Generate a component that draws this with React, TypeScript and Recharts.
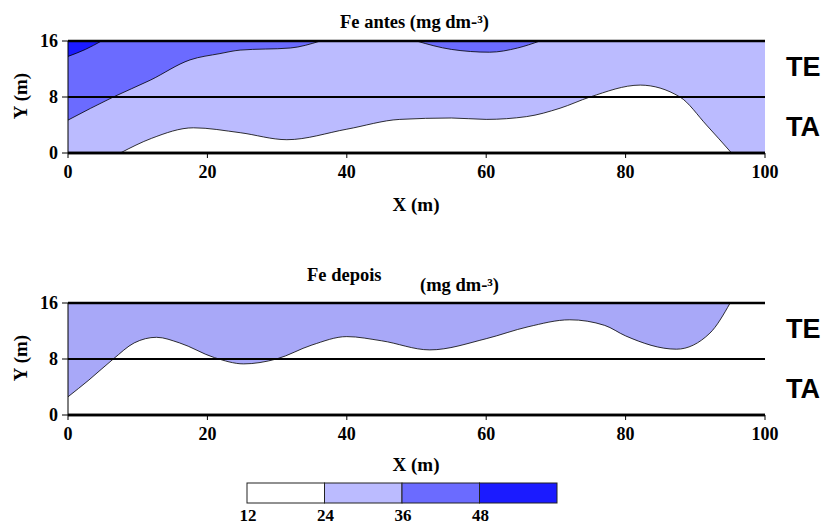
import { Area, ComposedChart, Line, ReferenceArea, ReferenceLine, XAxis, YAxis } from 'recharts'

if (typeof document !== 'undefined') document.body.style.margin = '0'

// contour lines (x in m, y in m)
const antes24 = [
  { x: 7.5, y: 0 }, { x: 12, y: 2.1 }, { x: 18, y: 3.6 }, { x: 24.7, y: 2.9 }, { x: 31.4, y: 1.9 },
  { x: 40, y: 3.4 }, { x: 47.6, y: 4.8 }, { x: 55, y: 5.0 }, { x: 60, y: 4.8 }, { x: 65.8, y: 5.2 },
  { x: 70.6, y: 6.4 }, { x: 74.9, y: 8.0 }, { x: 82.1, y: 9.7 }, { x: 87.8, y: 8.0 }, { x: 91.6, y: 4.0 },
  { x: 95.2, y: 0 },
]
const antes36Left = [
  { x: 0, y: 4.7 }, { x: 6.5, y: 8 }, { x: 11.8, y: 10.4 }, { x: 17.5, y: 13.3 }, { x: 21.8, y: 14.2 },
  { x: 24.7, y: 14.7 }, { x: 31.9, y: 15.0 }, { x: 36.2, y: 16 },
]
const antes36Mid = [
  { x: 50, y: 16 }, { x: 55, y: 14.8 }, { x: 60.5, y: 14.4 }, { x: 64.5, y: 15.0 }, { x: 67.7, y: 16 },
]
const antes48 = [{ x: 0, y: 13.8 }, { x: 2.5, y: 14.8 }, { x: 4.8, y: 16 }]

const depois24 = [
  { x: 0, y: 2.6 }, { x: 3, y: 5 }, { x: 6.5, y: 8 }, { x: 9.5, y: 10.3 }, { x: 12.7, y: 11.1 },
  { x: 16, y: 10.3 }, { x: 21, y: 8.2 }, { x: 25.2, y: 7.3 }, { x: 29.9, y: 8 }, { x: 35, y: 10 },
  { x: 40, y: 11.2 }, { x: 45, y: 10.6 }, { x: 51.9, y: 9.3 }, { x: 60, y: 10.9 }, { x: 66, y: 12.6 },
  { x: 72, y: 13.6 }, { x: 77, y: 12.8 }, { x: 80, y: 11.3 }, { x: 87.3, y: 9.4 }, { x: 92.1, y: 11.7 },
  { x: 95, y: 16 },
]

const xTicks = [0, 20, 40, 60, 80, 100]
const yTicks = [0, 8, 16]
const rightTicks = [0, 5, 10, 15]
const legendBreaks = [12, 24, 36, 48]
const legendColors = ['#FFFFFF', '#BBBBFF', '#6B6BFF', '#1B1BFF']
const depoisColor = '#A8A8F8'

const serif = '"Liberation Serif", "Times New Roman", serif'
const sans = '"Liberation Sans", Arial, sans-serif'
const tickStyle = { fontFamily: serif, fontWeight: 700, fontSize: 18, fill: '#000' }
const band = (d: { y: number }) => [d.y, 16]

function Frame({ children, top }: { children: React.ReactNode; top: number }) {
  return (
    <ComposedChart
      width={827}
      height={200}
      margin={{ top, right: 62, bottom: 200 - top - 112 - 30, left: 28 }}
    >
      <XAxis type="number" dataKey="x" domain={[0, 100]} ticks={xTicks} height={30}
        tickSize={5} tickMargin={7} tick={tickStyle} stroke="#000"
        axisLine={{ stroke: '#000', strokeWidth: 2.5 }} allowDataOverflow />
      <XAxis xAxisId="top" orientation="top" type="number" dataKey="x" domain={[0, 100]} ticks={xTicks}
        height={0} tickSize={3} tick={false} stroke="#000"
        axisLine={{ stroke: '#000', strokeWidth: 2.5 }} allowDataOverflow />
      <YAxis type="number" dataKey="y" domain={[0, 16]} ticks={yTicks} width={40}
        tickSize={6} tickMargin={4} tick={tickStyle} stroke="#000" allowDataOverflow />
      <YAxis yAxisId="right" orientation="right" type="number" domain={[0, 16]} ticks={rightTicks}
        width={0} tickSize={3} tick={false} stroke="#000" allowDataOverflow />
      {children}
      <ReferenceLine y={8} stroke="#000" strokeWidth={2.2} />
      <ReferenceLine y={16} stroke="#000" strokeWidth={2.5} />
      <ReferenceLine y={0} stroke="#000" strokeWidth={2.5} />
    </ComposedChart>
  )
}

const contour = { type: 'monotone' as const, stroke: '#000', strokeWidth: 0.8, dot: false, isAnimationActive: false }

export default function App() {
  return (
    <div style={{ position: 'relative', width: 827, height: 526, background: '#fff' }}>
      <div style={{ position: 'absolute', left: 0, top: 0 }}>
        <Frame top={41}>
          <ReferenceArea x1={0} x2={100} y1={0} y2={16} fill={legendColors[1]} fillOpacity={1} stroke="none" />
          <Area data={antes24} dataKey="y" type="monotone" baseValue={0} fill="#FFFFFF" fillOpacity={1} stroke="none" isAnimationActive={false} />
          <Area data={antes36Left} dataKey={band} type="monotone" fill={legendColors[2]} fillOpacity={1} stroke="none" isAnimationActive={false} />
          <Area data={antes36Mid} dataKey={band} type="monotone" fill={legendColors[2]} fillOpacity={1} stroke="none" isAnimationActive={false} />
          <Area data={antes48} dataKey={band} type="monotone" fill={legendColors[3]} fillOpacity={1} stroke="none" isAnimationActive={false} />
          <Line data={antes24} dataKey="y" {...contour} />
          <Line data={antes36Left} dataKey="y" {...contour} />
          <Line data={antes36Mid} dataKey="y" {...contour} />
          <Line data={antes48} dataKey="y" {...contour} />
        </Frame>
      </div>
      <div style={{ position: 'absolute', left: 0, top: 260 }}>
        <Frame top={43}>
          <Area data={depois24} dataKey={band} type="monotone" fill={depoisColor} fillOpacity={1} stroke="none" isAnimationActive={false} />
          <Line data={depois24} dataKey="y" {...contour} />
        </Frame>
      </div>
      <svg width={827} height={526} style={{ position: 'absolute', left: 0, top: 0, pointerEvents: 'none' }}>
        <g fontFamily={serif} fontWeight={700} fontSize={18.5} fill="#000">
          <text x={340} y={28}>Fe antes (mg dm-³)</text>
          <text x={307} y={281}>Fe depois</text>
          <text x={420} y={291}>(mg dm-³)</text>
        </g>
        <g fontFamily={serif} fontWeight={700} fontSize={19} fill="#000">
          <text x={416} y={211} textAnchor="middle">X (m)</text>
          <text x={416} y={471} textAnchor="middle">X (m)</text>
          <text transform="translate(27,96) rotate(-90)" textAnchor="middle">Y (m)</text>
          <text transform="translate(27,358) rotate(-90)" textAnchor="middle">Y (m)</text>
        </g>
        <g fontFamily={sans} fontWeight={700} fontSize={27} fill="#000">
          <text x={786} y={76}>TE</text>
          <text x={786} y={136}>TA</text>
          <text x={786} y={338}>TE</text>
          <text x={786} y={398}>TA</text>
        </g>
        {legendColors.map((c, i) => (
          <rect key={c} x={247 + i * 77.5} y={483} width={77.5} height={20} fill={c} stroke="#222" strokeWidth={1} />
        ))}
        <g fontFamily={serif} fontWeight={700} fontSize={17} fill="#000" textAnchor="middle">
          {legendBreaks.map((v, i) => (
            <text key={v} x={248 + i * 77.5} y={521}>{v}</text>
          ))}
        </g>
      </svg>
    </div>
  )
}
